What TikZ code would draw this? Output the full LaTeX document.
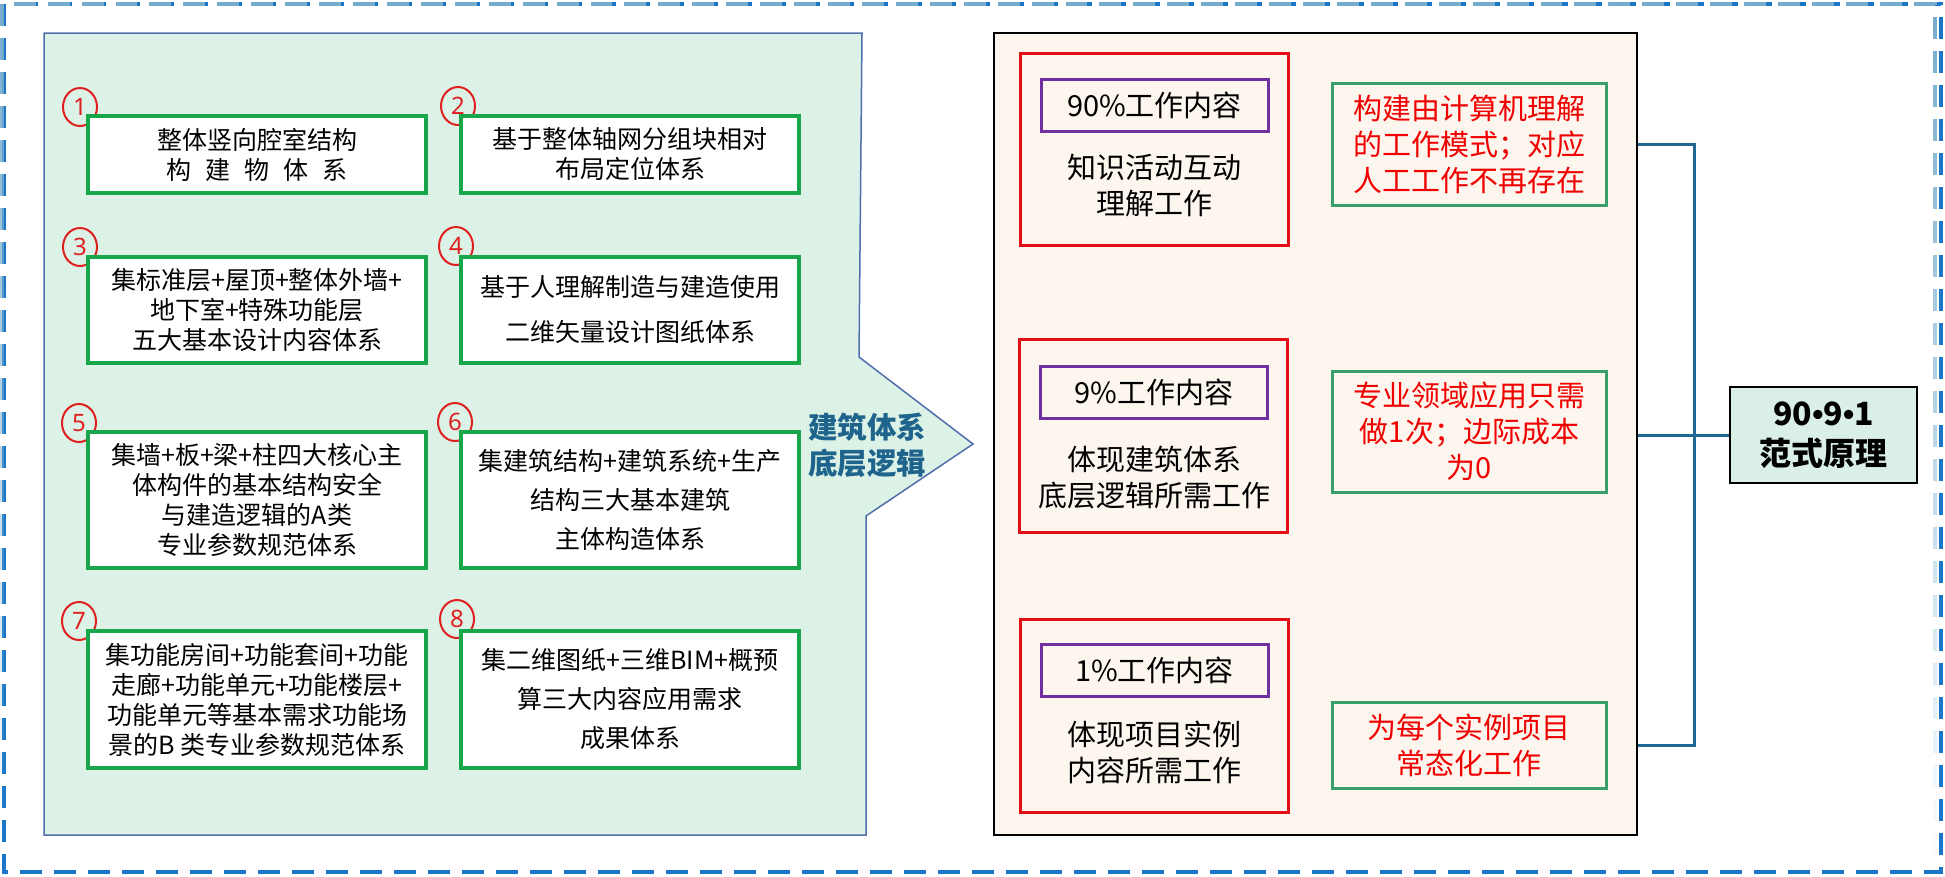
\documentclass[tikz,border=0pt]{standalone}
\usepackage{fontspec}
\newfontfamily\cjk{Noto Sans CJK SC}
\newfontfamily\latin{Noto Sans}
\newfontfamily\dotfont{Liberation Sans}
\usetikzlibrary{shapes.geometric,fadings}
\definecolor{dashblue}{RGB}{28,118,200}
\definecolor{dashlight}{RGB}{118,172,206}
\definecolor{panelmint}{RGB}{221,242,231}
\definecolor{panelline}{RGB}{80,110,172}
\definecolor{boxgreen}{RGB}{24,166,74}
\definecolor{numred}{RGB}{222,32,32}
\definecolor{calloutblue}{RGB}{31,100,140}
\definecolor{beige}{RGB}{253,246,238}
\definecolor{boxred}{RGB}{228,14,22}
\definecolor{tagpurple}{RGB}{112,48,160}
\definecolor{notegreen}{RGB}{56,158,106}
\definecolor{notered}{RGB}{240,0,0}
\definecolor{linkblue}{RGB}{31,104,145}
\definecolor{keymint}{RGB}{218,240,230}

\begin{document}
\begin{tikzpicture}[x=1pt,y=-1pt,
  gbox/.style={draw=boxgreen,line width=3.5pt,fill=white,inner sep=0pt,minimum width=338pt,align=center,font=\cjk\fontsize{25}{30}\selectfont},
  num/.style={ellipse,draw=numred,line width=2pt,minimum width=34pt,minimum height=38pt,inner sep=0pt,text=numred,font=\latin\fontsize{24}{24}\selectfont},
  redbox/.style={draw=boxred,line width=3pt,minimum width=268pt,minimum height=193pt},
  tagbox/.style={draw=tagpurple,line width=3pt,minimum width=227pt,minimum height=52pt,inner sep=0pt,font=\cjk\fontsize{29}{36}\selectfont},
  body/.style={align=center,inner sep=0pt,font=\cjk\fontsize{29}{36}\selectfont},
  note/.style={draw=notegreen,line width=3pt,minimum width=274pt,inner sep=0pt,align=center,text=notered,font=\cjk\fontsize{29}{36}\selectfont},
  link/.style={draw=linkblue,line width=3pt}]
\useasboundingbox (0,0) rectangle (1945,876);
\draw[dashblue,line width=4pt,dash pattern=on 22pt off 12pt] (4,4) rectangle (1941,872);
\draw[dashlight,line width=4pt,dash pattern=on 22pt off 12pt,path fading=south] (4,4) rectangle (1941,872);

\draw[panelline,line width=1.5pt,fill=panelmint] (44,33) -- (862,33) -- (859,357) -- (973,444) -- (866,516) -- (866,835) -- (44,835) -- cycle;
\node[align=center,inner sep=0pt,text=calloutblue,font=\cjk\bfseries\fontsize{29.5}{36}\selectfont] (logic) at (867,445) {建筑体系\\底层逻辑};

\node[num] (n1) at (80,107) {1};
\node[num] (n2) at (458,106) {2};
\node[num] (n3) at (80,247) {3};
\node[num] (n4) at (456,246) {4};
\node[num] (n5) at (79,423) {5};
\node[num] (n6) at (455,422) {6};
\node[num] (n7) at (79,621) {7};
\node[num] (n8) at (457,619) {8};

\node[gbox,minimum height=77pt] (b1) at (257,154.5) {整体竖向腔室结构\\构\hspace{14pt}建\hspace{14pt}物\hspace{14pt}体\hspace{14pt}系};
\node[gbox,minimum height=77pt] (b2) at (630,154.5) {基于整体轴网分组块相对\\布局定位体系};
\node[gbox,minimum height=106pt] (b3) at (257,310) {集标准层+屋顶+整体外墙+\\地下室+特殊功能层\\五大基本设计内容体系};
\node[gbox,minimum height=106pt,font=\cjk\fontsize{25}{45}\selectfont] (b4) at (630,310) {基于人理解制造与建造使用\\二维矢量设计图纸体系};
\node[gbox,minimum height=136pt] (b5) at (257,500) {集墙+板+梁+柱四大核心主\\体构件的基本结构安全\\与建造逻辑的A类\\专业参数规范体系};
\node[gbox,minimum height=136pt,font=\cjk\fontsize{25}{39}\selectfont] (b6) at (630,500) {集建筑结构+建筑系统+生产\\结构三大基本建筑\\主体构造体系};
\node[gbox,minimum height=137pt] (b7) at (257,699.5) {集功能房间+功能套间+功能\\走廊+功能单元+功能楼层+\\功能单元等基本需求功能场\\景的B 类专业参数规范体系};
\node[gbox,minimum height=137pt,font=\cjk\fontsize{25}{39}\selectfont] (b8) at (630,699.5) {集二维图纸+三维BIM+概预\\算三大内容应用需求\\成果体系};

\node[draw,line width=2.5pt,fill=beige,minimum width=643pt,minimum height=802pt] (panel) at (1315.5,434) {};

\node[redbox,minimum height=192pt] (r1) at (1154,149) {};
\node[tagbox] (p1) at (1154.5,105) {90\%工作内容};
\node[body] (t1) at (1154,186) {知识活动互动\\理解工作};
\node[note,minimum height=122pt] (g1) at (1469,144) {构建由计算机理解\\的工作模式；对应\\人工工作不再存在};

\node[redbox] (r2) at (1153.5,435.5) {};
\node[tagbox] (p2) at (1154,392.5) {9\%工作内容};
\node[body] (t2) at (1154,477.5) {体现建筑体系\\底层逻辑所需工作};
\node[note,minimum height=121pt] (g2) at (1469.5,431.5) {专业领域应用只需\\做1次；边际成本\\为0};

\node[redbox] (r3) at (1154,715.5) {};
\node[tagbox] (p3) at (1154.5,670) {1\%工作内容};
\node[body] (t3) at (1154,752.5) {体现项目实例\\内容所需工作};
\node[note,minimum height=86pt] (g3) at (1469,745) {为每个实例项目\\常态化工作};

\node[draw,line width=2.5pt,fill=keymint,minimum width=187pt,minimum height=96pt,align=center,font=\cjk\bfseries\fontsize{32}{40}\selectfont] (key) at (1823.5,435) {90{\dotfont\bfseries •}9{\dotfont\bfseries •}1\\范式原理};

\coordinate (spine) at (1694,435);
\draw[link] (panel.east |- g1) -- (spine |- g1) -- (spine |- g3) -- (panel.east |- g3);
\draw[link] (panel.east |- key) -- (key);
\end{tikzpicture}
\end{document}
